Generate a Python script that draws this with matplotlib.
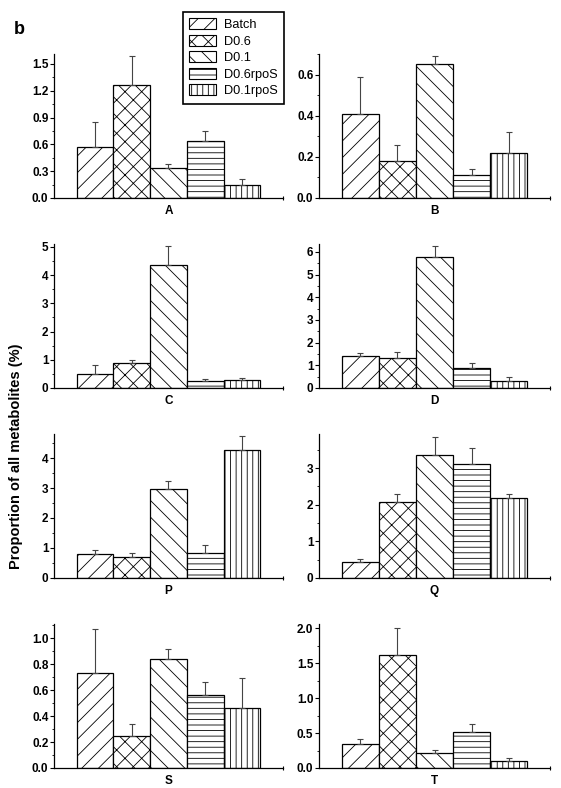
#%% Importing libraries
import numpy as np
import matplotlib
matplotlib.use("Agg")
import matplotlib.pyplot as plt
from matplotlib.patches import Patch
from matplotlib.ticker import MultipleLocator, AutoMinorLocator, FormatStrFormatter

#%% Data (mean and +error for each strain / condition)
conditions = ["Batch", "D0.6", "D0.1", "D0.6rpoS", "D0.1rpoS"]
hatches = ["//", "xx", "\\\\", "---", "|||"]

panel_names = ["A", "B", "C", "D", "P", "Q", "S", "T"]

A_mean = [0.57, 1.26, 0.33, 0.64, 0.14]
A_err = [0.28, 0.33, 0.05, 0.11, 0.07]
B_mean = [0.41, 0.18, 0.65, 0.11, 0.22]
B_err = [0.18, 0.08, 0.04, 0.03, 0.10]
C_mean = [0.51, 0.87, 4.35, 0.25, 0.29]
C_err = [0.30, 0.11, 0.67, 0.06, 0.08]
D_mean = [1.41, 1.34, 5.78, 0.88, 0.32]
D_err = [0.13, 0.26, 0.46, 0.21, 0.18]
P_mean = [0.81, 0.71, 2.97, 0.85, 4.26]
P_err = [0.13, 0.14, 0.26, 0.26, 0.49]
Q_mean = [0.43, 2.07, 3.36, 3.12, 2.17]
Q_err = [0.10, 0.21, 0.49, 0.44, 0.12]
S_mean = [0.73, 0.25, 0.84, 0.56, 0.46]
S_err = [0.34, 0.09, 0.08, 0.10, 0.23]
T_mean = [0.35, 1.62, 0.21, 0.52, 0.10]
T_err = [0.06, 0.38, 0.05, 0.11, 0.05]

means = [A_mean, B_mean, C_mean, D_mean, P_mean, Q_mean, S_mean, T_mean]
errs = [A_err, B_err, C_err, D_err, P_err, Q_err, S_err, T_err]

# axis settings per panel: y max, major tick step, tick format
y_max = [1.61, 0.70, 5.1, 6.35, 4.8, 3.93, 1.11, 2.06]
y_step = [0.3, 0.2, 1, 1, 1, 1, 0.2, 0.5]
y_fmt = ["%.1f", "%.1f", "%d", "%d", "%d", "%d", "%.1f", "%.1f"]

#%% Figure
plt.rcParams['font.family'] = ['Liberation Sans', 'DejaVu Sans']
plt.rcParams['hatch.linewidth'] = 0.6
plt.rcParams['axes.linewidth'] = 0.9

fig = plt.figure(figsize=(5.61, 7.88), dpi=100)

W, H = 561.0, 788.0
col_x = [54, 319]          # left edge of axes (px)
col_w = [229, 231]         # axes width (px)
row_bottom = [198, 388, 578, 768]  # y of the zero line (px)
ax_h = 144

x = np.arange(len(conditions))
for n, name in enumerate(panel_names):
    r, c = divmod(n, 2)
    ax = fig.add_axes([col_x[c] / W, 1 - row_bottom[r] / H, col_w[c] / W, ax_h / H])
    ax.bar(x, means[n], width=1.0, color="white", edgecolor="black",
           linewidth=0.9, hatch=hatches, zorder=2)
    # only the upper half of the error bar is shown
    ax.errorbar(x, means[n], yerr=[np.zeros(len(x)), errs[n]], fmt="none",
                ecolor="#444444", elinewidth=0.8, capsize=2, capthick=0.8, zorder=3)
    ax.set_xlim(-1.12, 5.12)
    ax.set_ylim(0, y_max[n])
    ax.spines['top'].set_visible(False)
    ax.spines['right'].set_visible(False)
    ax.yaxis.set_major_locator(MultipleLocator(y_step[n]))
    ax.yaxis.set_minor_locator(AutoMinorLocator(2))
    ax.yaxis.set_major_formatter(FormatStrFormatter(y_fmt[n]))
    ax.tick_params(axis='y', which='major', direction='out', length=3, width=0.8,
                   pad=1, labelsize=8.5)
    ax.tick_params(axis='y', which='minor', direction='out', length=1.8, width=0.6)
    for lab in ax.get_yticklabels():
        lab.set_fontweight('bold')
    # small end tick on the x axis, no labels
    ax.set_xticks([5.12])
    ax.set_xticklabels([])
    ax.tick_params(axis='x', direction='inout', length=3, width=0.8)
    ax.set_xlabel(name, fontsize=8.5, fontweight='bold', labelpad=0)

#%% Legend, panel letter and shared y label
handles = [Patch(facecolor="white", edgecolor="black", hatch=h, linewidth=0.8)
           for h in hatches]
leg = fig.legend(handles, conditions, loc="upper left",
                 bbox_to_anchor=(183 / W, 1 - 12 / H), fontsize=9.2,
                 fancybox=False, edgecolor="black", framealpha=1,
                 handlelength=2.1, handleheight=0.95, handletextpad=0.6,
                 labelspacing=0.28, borderpad=0.5, borderaxespad=0)
leg.get_frame().set_linewidth(1.2)

fig.text(14 / W, 1 - 34 / H, "b", fontsize=13, fontweight='bold')
fig.text(16 / W, 1 - 456 / H, "Proportion of all metabolites (%)", fontsize=10.5,
         fontweight='bold', rotation=90, ha='center', va='center')

fig.savefig("out.png", dpi=100)
